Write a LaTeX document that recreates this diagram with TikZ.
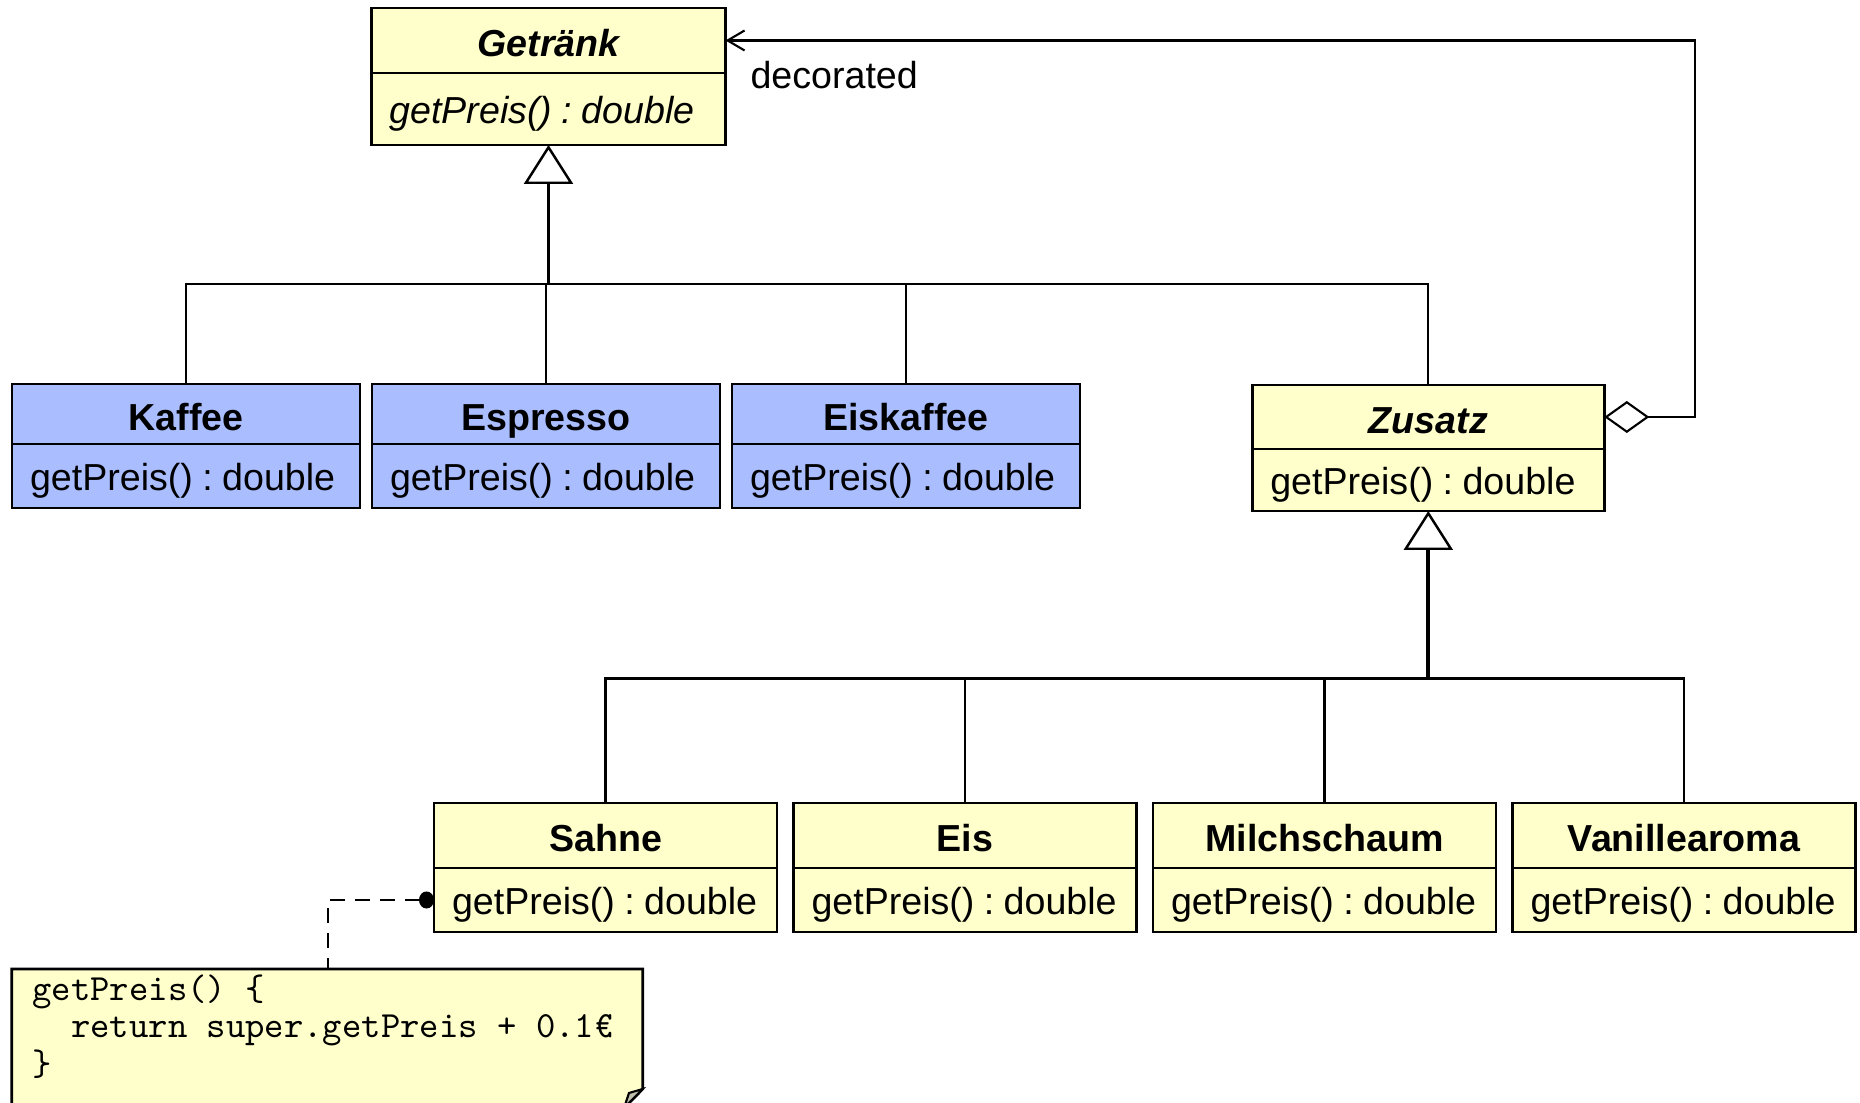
\documentclass[tikz,border=0pt]{standalone}
\usepackage{fontspec}
\setmainfont{Liberation Sans}
\usetikzlibrary{arrows.meta,calc,positioning}
\definecolor{clsyellow}{RGB}{255,255,204}
\definecolor{clsblue}{RGB}{170,190,255}
\definecolor{foldgray}{RGB}{190,190,175}
\newcommand\umlfont{\fontsize{10.7}{12.8}\selectfont}
\newcommand\preisop{getPreis()\hspace{0.25em}:\hspace{0.25em}double}
\newcommand\codesp{\hphantom{x}}
\tikzset{
  head/.style     = {draw, line width=0.8pt, outer sep=0pt, inner sep=0pt,
                     font=\umlfont\bfseries, text height=3.35mm, text depth=0.1mm},
  ops/.style      = {draw, line width=0.8pt, outer sep=0pt, inner xsep=1.8mm, inner ysep=0pt,
                     align=left, text width=#1, font=\umlfont, text height=3.7mm, text depth=0.85mm},
  wire/.style     = {line width=0.6pt},
  trunk/.style    = {line width=1.1pt, -{Triangle[open, length=3.9mm, width=4.9mm, line width'=0.7pt]}},
  agg/.style      = {line width=0.6pt, {Diamond[open, length=4.5mm, width=3.2mm]}-{Straight Barb[length=1.7mm, width=2mm]}},
  notelink/.style = {line width=0.6pt, dash pattern=on 1.5mm off 1mm, {Circle[length=1.5mm, width=1.7mm]}-},
  notebox/.style  = {fill=clsyellow, line width=0.8pt},
}

\begin{document}
\begin{tikzpicture}[x=0.1mm,y=-0.1mm]
  \useasboundingbox (0,0) rectangle (1860,1103);
  \clip (0,0) rectangle (1860,1103);

  % abstract base class
  \node[head, fill=clsyellow, minimum width=35.4mm, minimum height=6.5mm,
        font=\umlfont\bfseries\itshape] (getraenk) at (548.5,40.5) {Getränk};
  \node[ops=31.8mm, fill=clsyellow, minimum height=7.2mm, font=\umlfont\itshape,
        below=0pt of getraenk] (getraenkOps) {\preisop};

  % concrete drinks
  \node[head, fill=clsblue, minimum width=34.8mm, minimum height=6mm] (kaffee) at (186,414) {Kaffee};
  \node[ops=31.2mm, fill=clsblue, minimum height=6.4mm, below=0pt of kaffee] (kaffeeOps) {\preisop};
  \node[head, fill=clsblue, minimum width=34.8mm, minimum height=6mm, right=1.2mm of kaffee] (espresso) {Espresso};
  \node[ops=31.2mm, fill=clsblue, minimum height=6.4mm, below=0pt of espresso] (espressoOps) {\preisop};
  \node[head, fill=clsblue, minimum width=34.8mm, minimum height=6mm, right=1.2mm of espresso] (eiskaffee) {Eiskaffee};
  \node[ops=31.2mm, fill=clsblue, minimum height=6.4mm, below=0pt of eiskaffee] (eiskaffeeOps) {\preisop};

  % decorator
  \node[head, fill=clsyellow, minimum width=35.2mm, minimum height=6.4mm,
        font=\umlfont\bfseries\itshape] (zusatz) at (1428.3,417) {Zusatz};
  \node[ops=31.6mm, fill=clsyellow, minimum height=6.2mm, below=0pt of zusatz] (zusatzOps) {\preisop};

  % concrete decorators
  \node[head, fill=clsyellow, minimum width=34.3mm, minimum height=6.5mm] (sahne) at (605.5,835.5) {Sahne};
  \node[ops=30.7mm, fill=clsyellow, minimum height=6.4mm, below=0pt of sahne] (sahneOps) {\preisop};
  \node[head, fill=clsyellow, minimum width=34.3mm, minimum height=6.5mm, right=1.65mm of sahne] (eis) {Eis};
  \node[ops=30.7mm, fill=clsyellow, minimum height=6.4mm, below=0pt of eis] (eisOps) {\preisop};
  \node[head, fill=clsyellow, minimum width=34.3mm, minimum height=6.5mm, right=1.65mm of eis] (milch) {Milchschaum};
  \node[ops=30.7mm, fill=clsyellow, minimum height=6.4mm, below=0pt of milch] (milchOps) {\preisop};
  \node[head, fill=clsyellow, minimum width=34.3mm, minimum height=6.5mm, right=1.65mm of milch] (vanille) {Vanillearoma};
  \node[ops=30.7mm, fill=clsyellow, minimum height=6.4mm, below=0pt of vanille] (vanilleOps) {\preisop};

  % generalisation buses
  \coordinate (hubTop) at (getraenkOps.south |- 0,284);
  \coordinate (hubBot) at (zusatzOps.south |- 0,678.5);
  \draw[wire] (kaffee.north) |- (hubTop) -| (zusatz.north);
  \draw[wire] (espresso.north) |- (hubTop);
  \draw[wire] (eiskaffee.north) |- (hubTop);
  \draw[trunk] (hubTop) -- (getraenkOps.south);
  \draw[wire] (sahne.north) |- (hubBot) -| (vanille.north);
  \draw[wire] (eis.north) |- (hubBot);
  \draw[wire] (milch.north) |- (hubBot);
  \draw[trunk] (hubBot) -- (zusatzOps.south);

  % wrapped component
  \draw[agg] (zusatz.east) -- ++(91,0) |- (getraenk.east)
    node[anchor=north west, inner sep=0pt, xshift=2.4mm, yshift=-2mm, font=\umlfont] (decoLbl) {decorated};

  % note with folded corner
  \filldraw[notebox] (11.7,969) -- (642.7,969) -- (642.7,1089) -- (624,1108) -- (11.7,1108) -- cycle;
  \filldraw[fill=foldgray, line width=0.6pt] (642.7,1089) -- (629,1093) -- (624,1108) -- cycle;
  \node[anchor=north west, inner xsep=2mm, inner ysep=0.5mm, text width=59.1mm, align=left,
        font=\ttfamily\fontsize{10.5}{10.64}\selectfont] (note) at (11.7,969)
    {getPreis()\codesp\{\\
     \codesp\codesp return\codesp super.getPreis\codesp+\codesp0.1€\\
     \}};
  \draw[notelink] (sahneOps.west) -| (note.north);
\end{tikzpicture}
\end{document}
